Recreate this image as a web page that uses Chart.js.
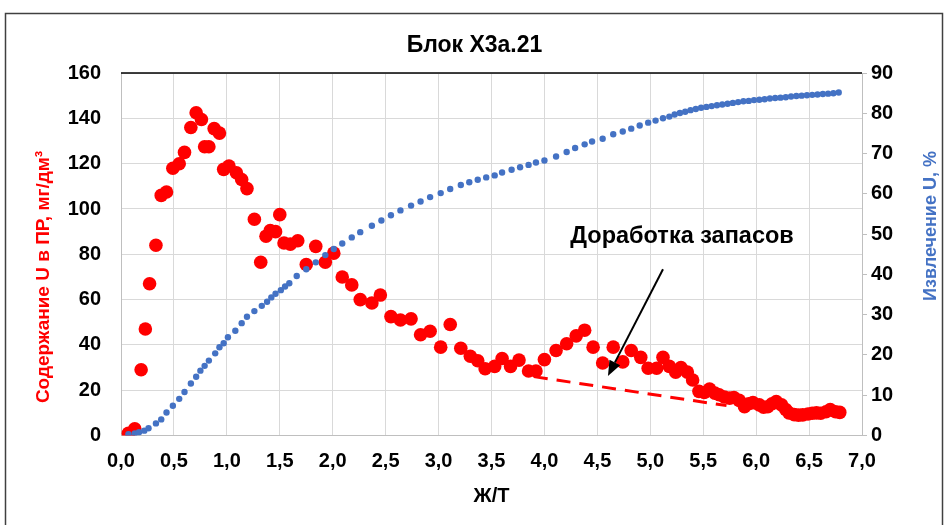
<!DOCTYPE html>
<html><head><meta charset="utf-8">
<script src="https://cdn.jsdelivr.net/npm/chart.js@4.4.1/dist/chart.umd.min.js"></script>
<style>html,body{margin:0;padding:0;background:#fff;}#wrap{width:949px;height:525px;position:relative;}</style>
</head><body><div id="wrap"><canvas id="c" width="949" height="525"></canvas></div>
<script>
// ---- data ----
const chartTitle = 'Блок Х3а.21';
const xAxisTitle = 'Ж/Т';
const leftAxisTitle = 'Содержание U в ПР, мг/дм³';
const rightAxisTitle = 'Извлечение U, %';
const noteText = 'Доработка запасов';

const xTicks = [0,0.5,1,1.5,2,2.5,3,3.5,4,4.5,5,5.5,6,6.5,7];
const leftTicks = [0,20,40,60,80,100,120,140,160];
const rightTicks = [0,10,20,30,40,50,60,70,80,90];

const redX = [0.07,0.13,0.19,0.23,0.27,0.33,0.38,0.43,0.49,0.55,0.60,0.66,0.71,0.76,0.79,0.83,0.88,0.93,0.97,1.02,1.09,1.14,1.19,1.26,1.32,1.37,1.41,1.46,1.50,1.54,1.60,1.67,1.75,1.84,1.93,2.01,2.09,2.18,2.26,2.37,2.45,2.55,2.64,2.74,2.83,2.92,3.02,3.11,3.21,3.30,3.37,3.44,3.53,3.60,3.68,3.76,3.85,3.92,4.00,4.11,4.21,4.30,4.38,4.46,4.55,4.65,4.74,4.82,4.91,4.98,5.06,5.12,5.18,5.24,5.29,5.35,5.40,5.46,5.51,5.56,5.61,5.65,5.70,5.75,5.79,5.84,5.89,5.93,5.97,6.03,6.07,6.11,6.15,6.19,6.24,6.28,6.31,6.36,6.40,6.44,6.49,6.53,6.57,6.61,6.66,6.70,6.75,6.79];
const redY = [1,3,29,47,67,84,106,107.5,118,120,125,136,142.5,139.5,127.5,127.5,135.5,133.5,117.5,119,116,113,109,95.5,76.5,88,90.5,90,97.5,85,84.5,86,75.5,83.5,76.5,80.5,70,66.5,60,58.5,62,52.5,51,51.5,44.5,46,39,49,38.5,35,33,29.5,30.5,34,30.5,33.3,28.5,28.5,33.5,37.5,40.5,44,46.5,39,32,39,32.5,37.5,34.5,29.7,29.7,34.5,30.5,28,30,28,24.5,19.5,19,20.5,18.7,18,17,16.5,16.8,15.5,12.7,14,14.5,13.5,12.5,12.7,14,15,13.5,11.5,10,9.2,9,9.1,9.5,9.8,10,9.8,10.5,11.5,10.5,10.2];

const blueX = [0.07,0.13,0.17,0.22,0.26,0.33,0.38,0.43,0.49,0.55,0.60,0.66,0.71,0.75,0.79,0.83,0.89,0.93,0.97,1.01,1.08,1.14,1.19,1.26,1.33,1.38,1.42,1.46,1.51,1.55,1.59,1.66,1.75,1.84,1.93,2.01,2.09,2.18,2.26,2.37,2.46,2.55,2.64,2.74,2.83,2.92,3.02,3.11,3.21,3.29,3.37,3.45,3.53,3.60,3.69,3.77,3.85,3.92,4.00,4.11,4.21,4.29,4.38,4.45,4.55,4.65,4.74,4.82,4.90,4.98,5.05,5.12,5.18,5.23,5.28,5.33,5.38,5.43,5.48,5.53,5.58,5.63,5.68,5.73,5.78,5.83,5.88,5.93,5.98,6.03,6.08,6.13,6.18,6.23,6.28,6.33,6.38,6.43,6.48,6.53,6.58,6.63,6.68,6.73,6.78];
const blueY = [0.3,0.5,0.8,1.2,1.8,3.0,4.0,5.7,7.4,9.1,10.8,12.9,14.6,16.1,17.3,18.6,20.4,21.9,22.9,24.4,26,27.9,29.5,30.9,32.2,33.2,34.3,35.2,36.1,37,37.8,39.6,41.3,43,44.8,46.3,47.7,49.2,50.5,52.1,53.4,54.7,55.9,57.1,58.1,59.2,60.2,61.2,62.2,62.9,63.5,64.1,64.6,65.3,66,66.6,67.2,67.8,68.3,69.3,70.4,71.4,72.3,73,73.7,74.8,75.5,76.2,77,77.7,78.2,78.8,79.2,79.7,80.1,80.4,80.8,81.1,81.4,81.6,81.8,82.0,82.2,82.4,82.6,82.8,83.0,83.1,83.3,83.4,83.5,83.7,83.8,83.9,84.0,84.2,84.3,84.4,84.5,84.6,84.7,84.8,84.9,85.0,85.2];

const trendX = [3.9, 5.72];
const trendY = [26, 13.2];
const arrowFrom = [5.12, 73.4];
const arrowTo = [4.60, 26.3];
const notePos = [5.30, 87.7];

// ---- chart ----
const FAM = '"Liberation Sans", Arial, sans-serif';
const tickFont = {family: FAM, size: 20, weight: 'bold'};
const toPts = (xs, ys) => xs.map((x, i) => ({x, y: ys[i]}));

const extras = {
  id: 'extras',
  beforeDraw(chart) {
    const c = chart.ctx;
    c.save(); c.fillStyle = '#fff'; c.fillRect(0, 0, chart.width, chart.height); c.restore();
  },
  afterDraw(chart) {
    const c = chart.ctx, a = chart.chartArea;
    const sx = chart.scales.x, sy = chart.scales.y;
    c.save();
    c.strokeStyle = '#000'; c.lineWidth = 1.5;
    c.beginPath(); c.moveTo(a.left, a.top); c.lineTo(a.right, a.top); c.stroke();
    c.strokeStyle = '#404040'; c.lineWidth = 1.5;
    c.strokeRect(5.5, 13.5, 937, 530);
    const x1 = sx.getPixelForValue(arrowFrom[0]), y1 = sy.getPixelForValue(arrowFrom[1]);
    const x2 = sx.getPixelForValue(arrowTo[0]), y2 = sy.getPixelForValue(arrowTo[1]);
    const ang = Math.atan2(y2 - y1, x2 - x1);
    const L = 15, W = 6;
    const bx = x2 - L * Math.cos(ang), by = y2 - L * Math.sin(ang);
    c.strokeStyle = '#000'; c.fillStyle = '#000'; c.lineWidth = 2;
    c.beginPath(); c.moveTo(x1, y1); c.lineTo(bx, by); c.stroke();
    c.beginPath(); c.moveTo(x2, y2);
    c.lineTo(bx + W * Math.sin(ang), by - W * Math.cos(ang));
    c.lineTo(bx - W * Math.sin(ang), by + W * Math.cos(ang));
    c.closePath(); c.fill();
    c.font = 'bold 23.5px ' + FAM; c.textAlign = 'center'; c.textBaseline = 'middle';
    c.fillText(noteText, sx.getPixelForValue(notePos[0]), sy.getPixelForValue(notePos[1]));
    c.font = 'bold 19px ' + FAM;
    c.save(); c.translate(44, 277); c.rotate(-Math.PI / 2);
    c.fillStyle = '#ff0000'; c.fillText(leftAxisTitle, 0, 0); c.restore();
    c.font = 'bold 18px ' + FAM;
    c.save(); c.translate(931, 226); c.rotate(-Math.PI / 2);
    c.fillStyle = '#4472c4'; c.fillText(rightAxisTitle, 0, 0); c.restore();
    c.restore();
  }
};

new Chart(document.getElementById('c'), {
  type: 'scatter',
  data: {
    datasets: [
      {label: 'Извлечение', data: toPts(blueX, blueY), yAxisID: 'y2', backgroundColor: '#4472c4', borderColor: '#4472c4', pointRadius: 3.2, pointBorderWidth: 0, order: 0},
      {label: 'Содержание', data: toPts(redX, redY), yAxisID: 'y', backgroundColor: '#ff0000', borderColor: '#ff0000', pointRadius: 6.8, pointBorderWidth: 0, order: 1},
      {type: 'line', label: 'trend', data: toPts(trendX, trendY), yAxisID: 'y', borderColor: '#ff0000', borderWidth: 3, borderDash: [14, 9], pointRadius: 0, fill: false, order: 2}
    ]
  },
  options: {
    responsive: false, animation: false, devicePixelRatio: 1,
    layout: {padding: 0},
    plugins: {
      legend: {display: false}, tooltip: {enabled: false},
      title: {display: true, text: chartTitle, color: '#000', font: {family: FAM, size: 23, weight: 'bold'}, padding: {top: 31.5, bottom: 14}}
    },
    scales: {
      x: {
        type: 'linear', min: 0, max: 7,
        afterFit(s) { s.height = 89.5; },
        afterBuildTicks(s) { s.ticks = xTicks.map(v => ({value: v})); },
        ticks: {callback: v => Number(v).toFixed(1).replace('.', ','), color: '#000', font: tickFont, padding: 14, maxRotation: 0, autoSkip: false},
        grid: {color: '#d9d9d9', drawTicks: false},
        border: {color: '#bfbfbf'},
        title: {display: true, text: xAxisTitle, color: '#000', font: {family: FAM, size: 20, weight: 'bold'}, padding: {top: 0, bottom: 17}}
      },
      y: {
        position: 'left', min: 0, max: 160,
        afterFit(s) { s.width = 121; },
        afterBuildTicks(s) { s.ticks = leftTicks.map(v => ({value: v})); },
        ticks: {color: '#000', font: tickFont, padding: 20},
        grid: {color: '#d9d9d9', drawTicks: false},
        border: {color: '#bfbfbf'}
      },
      y2: {
        position: 'right', min: 0, max: 90,
        afterFit(s) { s.width = 87; },
        afterBuildTicks(s) { s.ticks = rightTicks.map(v => ({value: v})); },
        ticks: {color: '#000', font: tickFont, padding: 4},
        grid: {drawOnChartArea: false, tickLength: 5, color: '#bfbfbf'},
        border: {color: '#bfbfbf'}
      }
    }
  },
  plugins: [extras]
});
</script>
</body></html>
